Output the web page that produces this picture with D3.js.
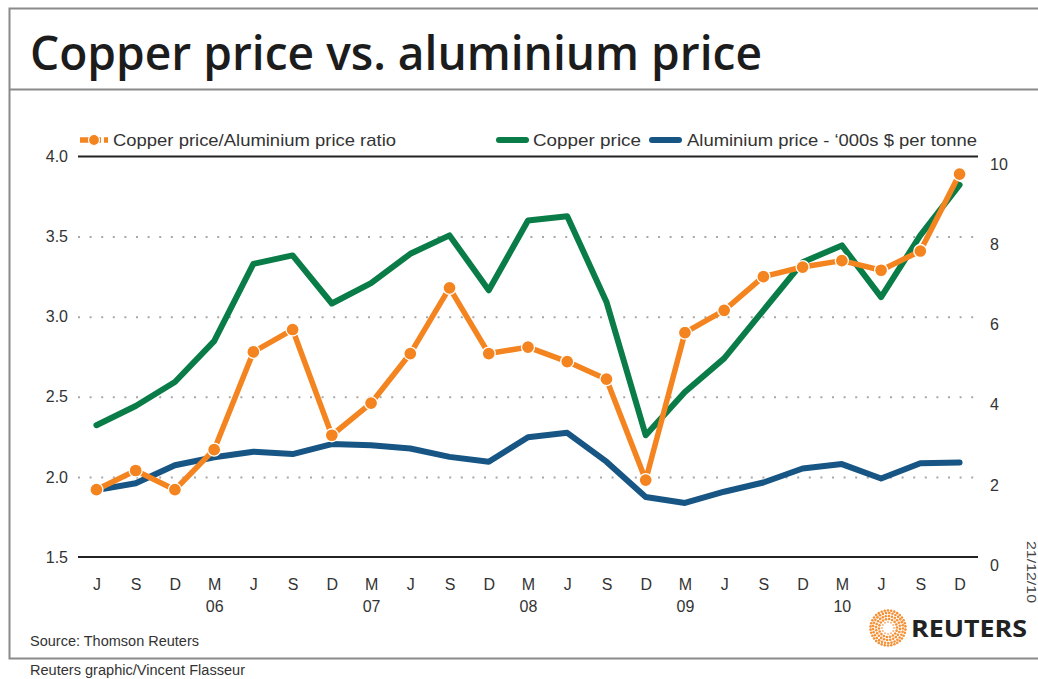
<!DOCTYPE html>
<html>
<head>
<meta charset="utf-8">
<script src="https://cdn.jsdelivr.net/npm/d3@7"></script>
<style>
  html, body { margin: 0; padding: 0; background: #fff; }
  svg { display: block; font-family: "Liberation Sans", Arial, sans-serif; }
</style>
</head>
<body>
<div id="container"></div>
<script>
// quarterly points, Jun 2005 .. Dec 2010
const months = ["J","S","D","M","J","S","D","M","J","S","D","M","J","S","D","M","J","S","D","M","J","S","D"];
const years  = ["","","","06","","","","07","","","","08","","","","09","","","","10","","",""];
const ratio     = [1.92, 2.04, 1.92, 2.17, 2.78, 2.92, 2.26, 2.46, 2.77, 3.18, 2.77, 2.81, 2.72, 2.61, 1.98, 2.90, 3.04, 3.25, 3.31, 3.35, 3.29, 3.41, 3.89];
const copper    = [3.29, 3.77, 4.37, 5.39, 7.32, 7.53, 6.33, 6.84, 7.57, 8.03, 6.66, 8.40, 8.51, 6.37, 3.04, 4.12, 4.96, 6.16, 7.36, 7.78, 6.49, 8.03, 9.29];
const aluminium = [1.67, 1.84, 2.29, 2.49, 2.63, 2.57, 2.82, 2.79, 2.71, 2.50, 2.38, 2.99, 3.10, 2.38, 1.50, 1.35, 1.63, 1.86, 2.21, 2.32, 1.96, 2.34, 2.36];
const leftTicks  = [1.5, 2.0, 2.5, 3.0, 3.5, 4.0];
const rightTicks = [0, 2, 4, 6, 8, 10];

const W = 1038, H = 679;
const plot = { left: 78, right: 978, top: 156.5, bottom: 557 };
const ORANGE = "#f4841f", GREEN = "#0a7c48", BLUE = "#175584", TXT = "#333";
const FONT = "'Liberation Sans', Arial, sans-serif";

const svg = d3.select("#container").append("svg")
    .attr("width", W).attr("height", H).attr("viewBox", `0 0 ${W} ${H}`);

// frame
svg.append("path")
    .attr("d", `M${W + 5},8.5 H9.5 V658.5 H${W + 5}`)
    .attr("fill", "none").attr("stroke", "#8a8a8a").attr("stroke-width", 2);
svg.append("line").attr("x1", 9).attr("x2", W).attr("y1", 89.5).attr("y2", 89.5)
    .attr("stroke", "#8a8a8a").attr("stroke-width", 2);

svg.append("text").attr("x", 30).attr("y", 70)
    .attr("font-family", "'Open Sans', sans-serif").attr("font-weight", 600)
    .attr("font-size", 47).attr("fill", "#1c1c1c")
    .attr("textLength", 732).attr("lengthAdjust", "spacingAndGlyphs")
    .text("Copper price vs. aluminium price");

// scales
const x = d3.scalePoint().domain(d3.range(months.length))
    .range([plot.left, plot.right]).padding(0.47);
const yL = d3.scaleLinear().domain([1.5, 4.0]).range([plot.bottom, plot.top]);
const yR = d3.scaleLinear().domain([0, 10]).range([plot.bottom, plot.top]);

// dotted grid
svg.append("g")
    .attr("transform", `translate(${plot.left},0)`)
    .call(d3.axisLeft(yL).tickValues([2.0, 2.5, 3.0, 3.5]).tickSize(-(plot.right - plot.left)).tickFormat(""))
    .call(g => g.select(".domain").remove())
    .call(g => g.selectAll("line").attr("stroke", "#a8a8a8").attr("stroke-width", 2)
        .attr("stroke-dasharray", "2,9.6"));

[plot.top, plot.bottom].forEach(yy => {
    svg.append("line").attr("x1", plot.left).attr("x2", plot.right)
        .attr("y1", yy).attr("y2", yy).attr("stroke", "#222").attr("stroke-width", 2);
});

const styleTicks = g => g.selectAll("text").attr("font-size", 16).attr("fill", TXT).attr("font-family", FONT);

// left axis
svg.append("g")
    .attr("transform", `translate(${plot.left - 3},0)`)
    .call(d3.axisLeft(yL).tickValues(leftTicks).tickSize(0).tickPadding(7).tickFormat(d3.format(".1f")))
    .call(g => g.select(".domain").remove())
    .call(styleTicks);

// right axis (labels sit just under their gridline)
svg.append("g")
    .attr("transform", `translate(${plot.right + 5},8)`)
    .call(d3.axisRight(yR).tickValues(rightTicks).tickSize(0).tickPadding(7))
    .call(g => g.select(".domain").remove())
    .call(styleTicks);

// x axis: month letters and years
svg.append("g")
    .attr("transform", `translate(0,${plot.bottom})`)
    .call(d3.axisBottom(x).tickSize(0).tickPadding(22).tickFormat(i => months[i]))
    .call(g => g.select(".domain").remove())
    .call(styleTicks);
svg.append("g")
    .attr("transform", `translate(0,${plot.bottom})`)
    .call(d3.axisBottom(x).tickSize(0).tickPadding(44).tickFormat(i => years[i]))
    .call(g => g.select(".domain").remove())
    .call(styleTicks);

// lines
const lineL = d3.line().x((d, i) => x(i)).y(d => yL(d));
const lineR = d3.line().x((d, i) => x(i)).y(d => yR(d));

svg.append("path").datum(aluminium).attr("d", lineR)
    .attr("fill", "none").attr("stroke", BLUE).attr("stroke-width", 6)
    .attr("stroke-linejoin", "round").attr("stroke-linecap", "round");
svg.append("path").datum(copper).attr("d", lineR)
    .attr("fill", "none").attr("stroke", GREEN).attr("stroke-width", 6)
    .attr("stroke-linejoin", "round").attr("stroke-linecap", "round");
svg.append("path").datum(ratio).attr("d", lineL)
    .attr("fill", "none").attr("stroke", ORANGE).attr("stroke-width", 5.5)
    .attr("stroke-linejoin", "round");
svg.selectAll("circle.pt").data(ratio).enter().append("circle")
    .attr("class", "pt")
    .attr("cx", (d, i) => x(i)).attr("cy", d => yL(d))
    .attr("r", 6.5).attr("fill", ORANGE).attr("stroke", "#fff").attr("stroke-width", 1.3);

// legend
const leg = svg.append("g").attr("font-size", 17).attr("fill", TXT);
leg.append("line").attr("x1", 80).attr("x2", 108).attr("y1", 140).attr("y2", 140)
    .attr("stroke", ORANGE).attr("stroke-width", 5.5).attr("stroke-dasharray", "9,3");
leg.append("circle").attr("cx", 94).attr("cy", 140).attr("r", 5.5).attr("fill", ORANGE)
    .attr("stroke", "#fff").attr("stroke-width", 1.2);
leg.append("text").attr("x", 113).attr("y", 146)
    .attr("textLength", 283).attr("lengthAdjust", "spacingAndGlyphs")
    .text("Copper price/Aluminium price ratio");
leg.append("line").attr("x1", 499).attr("x2", 526).attr("y1", 140).attr("y2", 140)
    .attr("stroke", GREEN).attr("stroke-width", 6).attr("stroke-linecap", "round");
leg.append("text").attr("x", 533).attr("y", 146)
    .attr("textLength", 108).attr("lengthAdjust", "spacingAndGlyphs")
    .text("Copper price");
leg.append("line").attr("x1", 652).attr("x2", 679).attr("y1", 140).attr("y2", 140)
    .attr("stroke", BLUE).attr("stroke-width", 6).attr("stroke-linecap", "round");
leg.append("text").attr("x", 687).attr("y", 146)
    .attr("textLength", 290).attr("lengthAdjust", "spacingAndGlyphs")
    .text("Aluminium price - \u2018000s $ per tonne");

// footer
svg.append("text").attr("x", 30).attr("y", 646).attr("font-size", 14).attr("fill", TXT)
    .attr("textLength", 169).attr("lengthAdjust", "spacingAndGlyphs")
    .text("Source: Thomson Reuters");
svg.append("text").attr("x", 30).attr("y", 675).attr("font-size", 14).attr("fill", TXT)
    .attr("textLength", 215).attr("lengthAdjust", "spacingAndGlyphs")
    .text("Reuters graphic/Vincent Flasseur");
svg.append("text").attr("transform", "translate(1027,541) rotate(90)")
    .attr("font-size", 13).attr("fill", "#444")
    .attr("textLength", 62).attr("lengthAdjust", "spacingAndGlyphs")
    .text("21/12/10");

// Reuters logo: dotted orange ring + wordmark
const logo = svg.append("g").attr("transform", "translate(888,628)");
[6, 9, 12, 15, 17.5].forEach((r, k) => {
    const n = Math.round(2 * Math.PI * r / 3.2);
    d3.range(n).forEach(j => {
        const a = (j / n) * 2 * Math.PI + k * 0.3;
        logo.append("circle").attr("cx", r * Math.cos(a)).attr("cy", r * Math.sin(a))
            .attr("r", k === 0 ? 1.0 : 1.3).attr("fill", ORANGE).attr("opacity", k === 0 ? 0.6 : 0.9);
    });
});
svg.append("text").attr("x", 911).attr("y", 637)
    .attr("font-family", "'Open Sans', sans-serif").attr("font-weight", 700)
    .attr("font-size", 23).attr("fill", "#222")
    .attr("textLength", 116).attr("lengthAdjust", "spacingAndGlyphs")
    .text("REUTERS");
</script>
</body>
</html>
